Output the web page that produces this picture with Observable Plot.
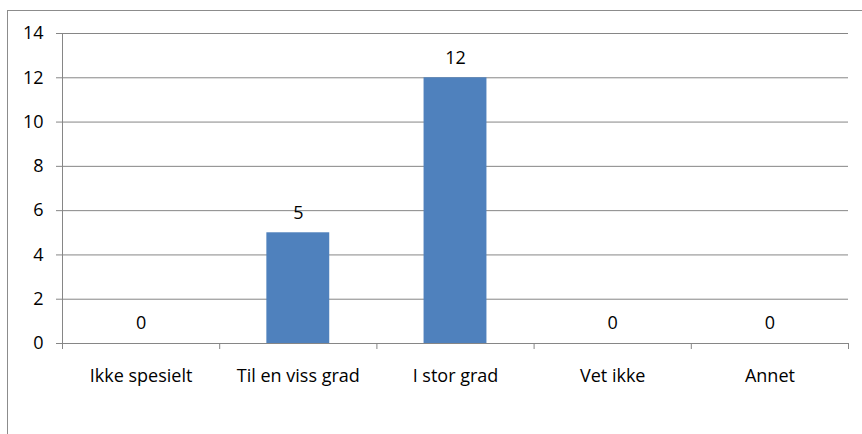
<!DOCTYPE html>
<html>
<head>
<meta charset="utf-8">
<script src="https://cdn.jsdelivr.net/npm/d3@7"></script>
<script src="https://cdn.jsdelivr.net/npm/@observablehq/plot@0.6"></script>
<style>
  html, body { margin: 0; padding: 0; background: #fff; overflow: hidden; }
  #wrap { position: relative; width: 862px; height: 434px; }
  #frame { position: absolute; left: 7px; top: 10px; width: 900px; height: 500px;
           border-top: 1px solid #8c8c8c; border-left: 1px solid #8c8c8c; box-sizing: border-box; }
  #chart { position: absolute; left: 0; top: 0; }
</style>
</head>
<body>
<div id="wrap">
  <div id="frame"></div>
  <div id="chart"></div>
</div>
<script>
const categories = ["Ikke spesielt", "Til en viss grad", "I stor grad", "Vet ikke", "Annet"];
const values = [0, 5, 12, 0, 0];
const yTicks = [0, 2, 4, 6, 8, 10, 12, 14];

const data = categories.map((c, i) => ({ i, category: c, value: values[i] }));
const idx = categories.map((_, i) => i);
const bounds = d3.range(categories.length + 1).map(k => k - 0.5);

const grid = "#868686";
const font = "'Open Sans', sans-serif";

const plot = Plot.plot({
  width: 862,
  height: 434,
  marginLeft: 62,
  marginRight: 14,
  marginTop: 33,
  marginBottom: 91,
  style: { fontFamily: font, fontSize: "18px", color: "#000", background: "transparent" },
  x: { type: "linear", domain: [-0.5, categories.length - 0.5] },
  y: { domain: [0, 14] },
  marks: [
    Plot.gridY(yTicks, { stroke: grid, strokeOpacity: 1, strokeWidth: 1 }),
    Plot.ruleX([-0.5], { stroke: grid, strokeWidth: 1 }),
    Plot.axisY(yTicks, { tickSize: 6, tickPadding: 13, stroke: grid, strokeOpacity: 1, fill: "#000", label: null }),
    Plot.rectY(data, { x1: d => d.i - 0.2, x2: d => d.i + 0.2, y: "value", fill: "#4F81BD" }),
    Plot.ruleY([0], { stroke: grid, strokeWidth: 1 }),
    Plot.axisX(bounds, { tickSize: 6, tickFormat: () => "", stroke: grid, strokeOpacity: 1, label: null }),
    Plot.axisX(idx, { tickSize: 0, tickPadding: 26, tickFormat: i => categories[i], fill: "#000", label: null }),
    Plot.text(data, { x: "i", y: "value", text: d => String(d.value), dy: -20, fill: "#000", fontSize: 18 })
  ]
});
document.getElementById("chart").appendChild(plot);
</script>
</body>
</html>
